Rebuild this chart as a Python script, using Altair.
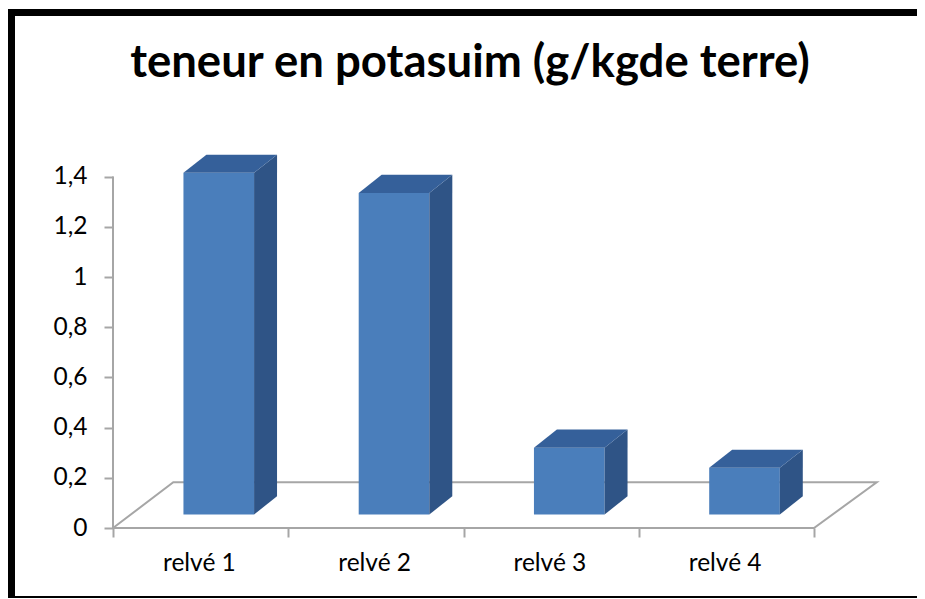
import altair as alt
import pandas as pd

categories = ["relvé 1", "relvé 2", "relvé 3", "relvé 4"]
values = [1.415, 1.335, 0.32, 0.24]
y_ticks = [0, 0.2, 0.4, 0.6, 0.8, 1, 1.2, 1.4]
x_ticks = [0, 1, 2, 3, 4]
title = "teneur en potasuim (g/kgde terre)"

BASE, DX, DY = 0.054, 0.131, 0.072
LEFT, BW = 0.402, 0.403
W, H = 771, 376
XS = alt.Scale(domain=[0, W / 175.25], nice=False, zero=False)
YS = alt.Scale(domain=[0, H / 251], nice=False, zero=False)
GREY = "#a6a6a6"

front, side, top = [], [], []
for i, (c, v) in enumerate(zip(categories, values)):
    l, r = i + LEFT, i + LEFT + BW
    front.append(dict(c=c, l=l, r=r, b=BASE, t=v))
    side += [dict(c=c, x=r, y=BASE, y2=v), dict(c=c, x=r + DX, y=BASE + DY, y2=v + DY)]
    top += [dict(c=c, x=l, y=v, y2=v), dict(c=c, x=l + DX, y=v, y2=v + DY),
            dict(c=c, x=r, y=v, y2=v + DY), dict(c=c, x=r + DX, y=v + DY, y2=v + DY)]

floor = pd.DataFrame(dict(x=[0, 0.344, 4.358, 4, 0], y=[0, 0.182, 0.182, 0, 0], o=range(5)))

X_AXIS = alt.Axis(values=x_ticks, domain=False, grid=False, tickSize=9, tickWidth=2,
                  tickColor=GREY, labels=False, title=None)
Y_AXIS = alt.Axis(values=y_ticks, domain=False, grid=False, tickSize=9, tickWidth=2,
                  tickColor=GREY, labelFontSize=24.5, labelFont="Lato", labelColor="black",
                  labelPadding=17, format="~g", title=None,
                  labelExpr="replace(datum.label, '.', ',')")
x = lambda f: alt.X(f, type="quantitative", scale=XS, axis=X_AXIS)
y = lambda f: alt.Y(f, type="quantitative", scale=YS, axis=Y_AXIS)

yline = alt.Chart(pd.DataFrame(dict(a=[0], b=[1.4]))).mark_rule(color=GREY, strokeWidth=2).encode(
    x=alt.value(0), y=y("a:Q"), y2="b:Q")
floorline = alt.Chart(floor).mark_line(color=GREY, strokeWidth=2).encode(
    x=x("x:Q"), y=y("y:Q"), order="o:Q")
fr = alt.Chart(pd.DataFrame(front)).mark_rect(color="#4a7ebb").encode(
    x=x("l:Q"), x2="r:Q", y=y("b:Q"), y2="t:Q")
sd = alt.Chart(pd.DataFrame(side)).mark_area(color="#2f5486", interpolate="linear").encode(
    x=x("x:Q"), y=y("y:Q"), y2="y2:Q", detail="c:N")
tp = alt.Chart(pd.DataFrame(top)).mark_area(color="#35609a", interpolate="linear").encode(
    x=x("x:Q"), y=y("y:Q"), y2="y2:Q", detail="c:N")
labels = alt.Chart(pd.DataFrame(dict(c=categories, p=[i + 0.493 for i in range(4)]))).mark_text(
    font="Lato", fontSize=24.5, color="black", baseline="alphabetic").encode(
    x=x("p:Q"), y=alt.value(H + 43), text="c:N")
head = alt.Chart(pd.DataFrame(dict(t=[title]))).mark_text(
    font="Lato", fontSize=45.5, fontWeight="bold", color="black", baseline="alphabetic").encode(
    x=alt.value(357), y=alt.value(-75), text="t:N")

def bar(x0, x1, y0, y1):
    return alt.Chart(pd.DataFrame(dict(a=[0]))).mark_rect(color="black", clip=False).encode(
        x=alt.value(x0), x2=alt.value(x1), y=alt.value(y0), y2=alt.value(y1))

frame = bar(-105, -98, -143, 447) + bar(-105, 804, -143, -136) + bar(-105, 804, 444, 447)

chart = (floorline + yline + fr + sd + tp + labels + head + frame).properties(
    width=W, height=H,
    padding=dict(left=105, top=144, right=33, bottom=70),
    autosize=alt.AutoSizeParams(type="none"),
    background="white",
).configure_view(stroke=None)

chart.save("out.html", embed_options={"renderer": "svg", "actions": False})
